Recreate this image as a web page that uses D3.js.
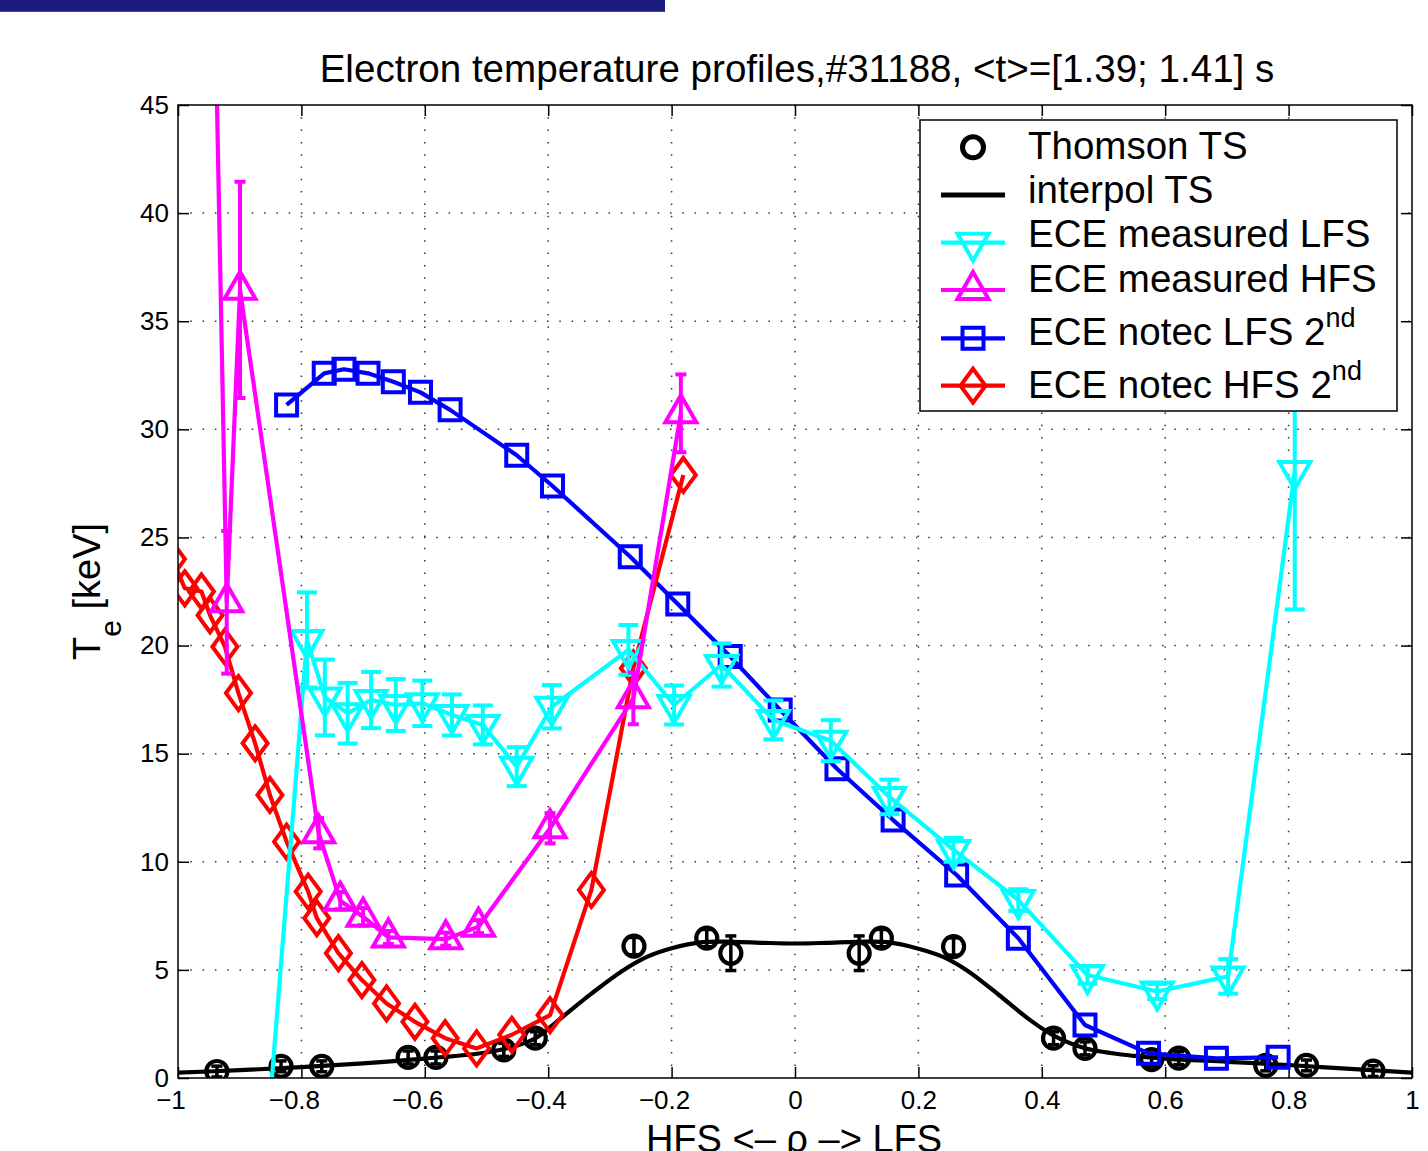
<!DOCTYPE html>
<html>
<head>
<meta charset="utf-8">
<script src="https://cdn.jsdelivr.net/npm/d3@7"></script>
<style>
html, body { margin: 0; padding: 0; background: #fff; }
svg { display: block; font-family: "Liberation Sans", Arial, Helvetica, sans-serif; }
</style>
</head>
<body>
<svg id="chart"></svg>
<script>
// ---- data ----
var xTicks = [-1, -0.8, -0.6, -0.4, -0.2, 0, 0.2, 0.4, 0.6, 0.8, 1];
var yTicks = [0, 5, 10, 15, 20, 25, 30, 35, 40, 45];

// Thomson TS points (rho, Te, error)
var tsRho = [-0.937, -0.833, -0.767, -0.627, -0.582, -0.472, -0.421, -0.261, -0.143, -0.104,
             0.104, 0.140, 0.257, 0.419, 0.470, 0.578, 0.622, 0.763, 0.829, 0.937];
var tsTe  = [0.3, 0.54, 0.54, 0.95, 0.95, 1.3, 1.84, 6.1, 6.47, 5.77,
             5.77, 6.47, 6.08, 1.84, 1.37, 0.85, 0.92, 0.58, 0.58, 0.32];
var tsErr = [0.25, 0.25, 0.25, 0.3, 0.3, 0.3, 0.3, 0.4, 0.4, 0.8,
             0.8, 0.4, 0.4, 0.3, 0.3, 0.3, 0.3, 0.25, 0.25, 0.25];

// interpolated TS profile
var ipRho = [-1, -0.9, -0.8, -0.7, -0.6, -0.5, -0.45, -0.42, -0.38, -0.33, -0.28, -0.24, -0.2, -0.15, -0.1, -0.05,
             0, 0.05, 0.1, 0.15, 0.2, 0.24, 0.28, 0.33, 0.38, 0.42, 0.47, 0.55, 0.6, 0.7, 0.8, 0.9, 1];
var ipTe  = [0.25, 0.36, 0.5, 0.68, 0.9, 1.18, 1.5, 1.85, 2.75, 3.9, 4.95, 5.6, 6.0, 6.28, 6.3, 6.25,
             6.22, 6.25, 6.3, 6.28, 5.98, 5.6, 4.95, 3.85, 2.7, 1.95, 1.38, 1.02, 0.9, 0.75, 0.6, 0.42, 0.25];

// ECE measured LFS
var lfsRho = [-0.852, -0.791, -0.762, -0.725, -0.687, -0.647, -0.604, -0.556, -0.506, -0.451, -0.394,
              -0.270, -0.196, -0.119, -0.035, 0.058, 0.153, 0.257, 0.362, 0.474, 0.587, 0.702, 0.810];
var lfsTe  = [-1.5, 20.26, 17.6, 16.87, 17.48, 17.25, 17.33, 16.79, 16.33, 14.4, 17.17,
              19.8, 17.25, 19.1, 16.56, 15.6, 13.0, 10.55, 8.23, 4.76, 4.0, 4.7, 28.07];
var lfsErr = [0.8, 2.2, 1.75, 1.4, 1.3, 1.2, 1.05, 0.95, 0.9, 0.9, 1.0,
              1.15, 0.9, 1.0, 0.9, 0.95, 0.8, 0.55, 0.5, 0.4, 0.35, 0.8, 6.4];

// ECE measured HFS
var hfsRho = [-0.945, -0.921, -0.8995, -0.772, -0.737, -0.700, -0.659, -0.566, -0.513, -0.397, -0.262, -0.185];
var hfsTe  = [57, 22.0, 36.45, 11.32, 8.2, 7.46, 6.5, 6.42, 7.0, 11.55, 17.56, 30.74];
var hfsErr = [5, 3.3, 5.0, 0.7, 0.4, 0.4, 0.3, 0.3, 0.3, 0.7, 1.2, 1.8];

// ECE notec LFS 2nd
var ntLfsRho = [-0.824, -0.763, -0.731, -0.692, -0.651, -0.607, -0.559, -0.451, -0.393, -0.267, -0.190,
                -0.105, -0.024, 0.068, 0.159, 0.262, 0.362, 0.470, 0.573, 0.683, 0.783];
var ntLfsTe  = [31.13, 32.59, 32.78, 32.59, 32.2, 31.71, 30.9, 28.8, 27.38, 24.11, 21.92,
                19.49, 17.02, 14.3, 11.93, 9.39, 6.46, 2.45, 1.14, 0.91, 0.96];

// ECE notec HFS 2nd
var ntHfsRho = [-1.009, -0.989, -0.962, -0.948, -0.924, -0.902, -0.875, -0.851, -0.824, -0.789, -0.775,
                -0.740, -0.702, -0.662, -0.616, -0.567, -0.516, -0.459, -0.397, -0.330, -0.262, -0.181];
var ntHfsTe  = [24.0, 22.65, 22.5, 21.4, 19.95, 17.8, 15.48, 13.09, 10.93, 8.62, 7.39,
                5.77, 4.53, 3.45, 2.60, 1.84, 1.37, 2.0, 2.91, 8.70, 18.95, 27.89];

var legendLabels = ["Thomson TS", "interpol TS", "ECE measured LFS", "ECE measured HFS", "ECE notec LFS 2", "ECE notec HFS 2"];
var legendSups   = ["", "", "", "", "nd", "nd"];

// ---- helpers ----
function pts(rho, te, err) {
    var arr = [];
    for (var i = 0; i < rho.length; i++) {
        arr.push({ x: rho[i], y: te[i], e: err ? err[i] : 0 });
    }
    return arr;
}

function markerPath(type) {
    var w, h;
    if (type == "v") { w = 31; h = 27; return "M" + (-w/2) + "," + (-h/3) + "L" + (w/2) + "," + (-h/3) + "L0," + (2*h/3) + "Z"; }
    if (type == "^") { w = 31; h = 27; return "M0," + (-2*h/3) + "L" + (w/2) + "," + (h/3) + "L" + (-w/2) + "," + (h/3) + "Z"; }
    if (type == "s") { return "M-10.5,-10.5H10.5V10.5H-10.5Z"; }
    if (type == "d") { return "M0,-17L12.5,0L0,17L-12.5,0Z"; }
    if (type == "o") { return "M10.5,0A10.5,10.5 0 1,1 -10.5,0A10.5,10.5 0 1,1 10.5,0Z"; }
}

function fmtTick(v) {
    if (v == 0) return "0";
    return (v < 0 ? "\u2212" : "") + String(Math.abs(v));
}

// ---- chart ----
var svgWidth = 1428, svgHeight = 1151;
var margin = { top: 105, right: 16, bottom: 73, left: 178 };
var width = svgWidth - margin.left - margin.right;
var height = svgHeight - margin.top - margin.bottom;

var svg = d3.select("#chart")
    .attr("width", svgWidth)
    .attr("height", svgHeight);

// banner at top
svg.append("rect").attr("x", 0).attr("y", 0).attr("width", 665).attr("height", 12).attr("fill", "#1c1c7e");
svg.append("rect").attr("x", 0).attr("y", 11).attr("width", 665).attr("height", 1).attr("fill", "#4a4a98");

var g = svg.append("g")
    .attr("transform", "translate(" + margin.left + "," + margin.top + ")");

var x = d3.scaleLinear().domain([-1, 1]).range([0, width]);
var y = d3.scaleLinear().domain([0, 45]).range([height, 0]);

svg.append("defs").append("clipPath").attr("id", "plotclip")
    .append("rect").attr("x", 0).attr("y", 0).attr("width", width).attr("height", height);

// dotted grid
g.append("g").selectAll("line").data(xTicks.slice(1, -1)).enter().append("line")
    .attr("x1", function(d) { return x(d); }).attr("x2", function(d) { return x(d); })
    .attr("y1", 0).attr("y2", height)
    .attr("stroke", "#333").attr("stroke-width", 1.5).attr("stroke-dasharray", "1.5,10.8");
g.append("g").selectAll("line").data(yTicks.slice(1, -1)).enter().append("line")
    .attr("y1", function(d) { return y(d); }).attr("y2", function(d) { return y(d); })
    .attr("x1", 0).attr("x2", width)
    .attr("stroke", "#333").attr("stroke-width", 1.5).attr("stroke-dasharray", "1.5,10.8");

// axes with inward ticks
var fontSize = 26;
var xb = g.append("g").attr("transform", "translate(0," + height + ")")
    .call(d3.axisBottom(x).tickValues(xTicks).tickSize(-11).tickPadding(13).tickFormat(fmtTick));
xb.selectAll("text").attr("dx", function(d) { return d < 0 ? "-0.29em" : 0; });
g.append("g").call(d3.axisTop(x).tickValues(xTicks).tickSize(-11).tickFormat(""));
g.append("g").call(d3.axisLeft(y).tickValues(yTicks).tickSize(-11).tickPadding(9).tickFormat(fmtTick));
g.append("g").attr("transform", "translate(" + width + ",0)")
    .call(d3.axisRight(y).tickValues(yTicks).tickSize(-11).tickFormat(""));
g.selectAll(".domain").remove();
g.selectAll(".tick line").attr("stroke", "#000").attr("stroke-width", 1.5);
g.selectAll(".tick text").attr("fill", "#000").style("font-size", fontSize + "px")
    .style("font-family", "'Liberation Sans', Arial, sans-serif");

// data layer
var plot = g.append("g").attr("clip-path", "url(#plotclip)");

var line = d3.line()
    .x(function(d) { return x(d.x); })
    .y(function(d) { return y(d.y); });

var smooth = d3.line()
    .x(function(d) { return x(d.x); })
    .y(function(d) { return y(d.y); })
    .curve(d3.curveCatmullRom.alpha(0.5));

function drawErrors(data, color, capW, sw) {
    var eg = plot.append("g").attr("stroke", color).attr("stroke-width", sw);
    data.forEach(function(d) {
        eg.append("line").attr("x1", x(d.x)).attr("x2", x(d.x)).attr("y1", y(d.y - d.e)).attr("y2", y(d.y + d.e));
        eg.append("line").attr("x1", x(d.x) - capW/2).attr("x2", x(d.x) + capW/2).attr("y1", y(d.y - d.e)).attr("y2", y(d.y - d.e));
        eg.append("line").attr("x1", x(d.x) - capW/2).attr("x2", x(d.x) + capW/2).attr("y1", y(d.y + d.e)).attr("y2", y(d.y + d.e));
    });
}

function drawMarkers(data, color, type, sw) {
    plot.append("g").selectAll("path").data(data).enter().append("path")
        .attr("transform", function(d) { return "translate(" + x(d.x) + "," + y(d.y) + ")"; })
        .attr("d", markerPath(type))
        .attr("fill", "none").attr("stroke", color).attr("stroke-width", sw);
}

// interpol TS
plot.append("path").datum(pts(ipRho, ipTe))
    .attr("fill", "none").attr("stroke", "#000").attr("stroke-width", 4.2).attr("d", smooth);

// Thomson TS
var ts = pts(tsRho, tsTe, tsErr);
drawErrors(ts, "#000", 11, 3.5);
drawMarkers(ts, "#000", "o", 4.2);

// ECE notec LFS 2nd
var ntl = pts(ntLfsRho, ntLfsTe);
plot.append("path").datum(ntl).attr("fill", "none").attr("stroke", "#0000ff").attr("stroke-width", 4.2)
    .attr("stroke-linejoin", "round").attr("d", line);
drawMarkers(ntl, "#0000ff", "s", 4);

// ECE notec HFS 2nd
var nth = pts(ntHfsRho, ntHfsTe);
plot.append("path").datum(nth).attr("fill", "none").attr("stroke", "#ff0000").attr("stroke-width", 4.2)
    .attr("stroke-linejoin", "round").attr("d", line);
drawMarkers(nth, "#ff0000", "d", 4);

// ECE measured LFS
var lfs = pts(lfsRho, lfsTe, lfsErr);
plot.append("path").datum(lfs).attr("fill", "none").attr("stroke", "#00ffff").attr("stroke-width", 4.2)
    .attr("stroke-linejoin", "round").attr("d", line);
drawErrors(lfs, "#00ffff", 20, 4);
drawMarkers(lfs, "#00ffff", "v", 4);

// ECE measured HFS
var hfs = pts(hfsRho, hfsTe, hfsErr);
plot.append("path").datum(hfs).attr("fill", "none").attr("stroke", "#ff00ff").attr("stroke-width", 4.2)
    .attr("stroke-linejoin", "round").attr("d", line);
drawErrors(hfs, "#ff00ff", 11, 4);
drawMarkers(hfs, "#ff00ff", "^", 4);

// axes box
g.append("rect").attr("x", 0).attr("y", 0).attr("width", width).attr("height", height)
    .attr("fill", "none").attr("stroke", "#000").attr("stroke-width", 1.5);

// title and labels
svg.append("text").attr("x", margin.left + width / 2 + 2).attr("y", 82)
    .attr("text-anchor", "middle").style("font-size", "38.6px").attr("fill", "#000")
    .text("Electron temperature profiles,#31188, <t>=[1.39; 1.41] s");

svg.append("text").attr("x", margin.left + width / 2 - 1).attr("y", 1152)
    .attr("text-anchor", "middle").style("font-size", "38px").attr("fill", "#000")
    .text("HFS <\u2013 \u03c1 \u2013> LFS");

var yl = svg.append("text")
    .attr("transform", "translate(100," + (margin.top + height / 2) + ") rotate(-90)")
    .attr("text-anchor", "middle").style("font-size", "38px").attr("fill", "#000");
yl.append("tspan").text("T");
yl.append("tspan").attr("dy", 21).style("font-size", "30px").text("e");
yl.append("tspan").attr("dy", -21).text(" [keV]");

// legend
var legX = 920, legY = 120, legW = 477, legH = 291;
var legLineY = [147.3, 195, 242.7, 290, 338.3, 385.7];
var legBase = [159.3, 203.3, 247.3, 291.7, 345, 398.3];
var legColors = ["#000", "#000", "#00ffff", "#ff00ff", "#0000ff", "#ff0000"];
var legMarkers = ["o", null, "v", "^", "s", "d"];
var legLines = [false, true, true, true, true, true];

var leg = svg.append("g");
leg.append("rect").attr("x", legX).attr("y", legY).attr("width", legW).attr("height", legH)
    .attr("fill", "#fff").attr("stroke", "#000").attr("stroke-width", 1.5);

legendLabels.forEach(function(lab, i) {
    if (legLines[i]) {
        leg.append("line").attr("x1", 941).attr("x2", 1005).attr("y1", legLineY[i]).attr("y2", legLineY[i])
            .attr("stroke", legColors[i]).attr("stroke-width", i == 1 ? 5 : 4.2);
    }
    if (legMarkers[i]) {
        leg.append("path").attr("transform", "translate(973," + legLineY[i] + ")")
            .attr("d", markerPath(legMarkers[i]))
            .attr("fill", "none").attr("stroke", legColors[i]).attr("stroke-width", i == 0 ? 5 : 4);
    }
    var t = leg.append("text").attr("x", 1028).attr("y", legBase[i])
        .style("font-size", "38.5px").attr("fill", "#000");
    t.append("tspan").text(lab);
    if (legendSups[i]) {
        t.append("tspan").attr("dy", -18).style("font-size", "27px").text(legendSups[i]);
    }
});
</script>
</body>
</html>
